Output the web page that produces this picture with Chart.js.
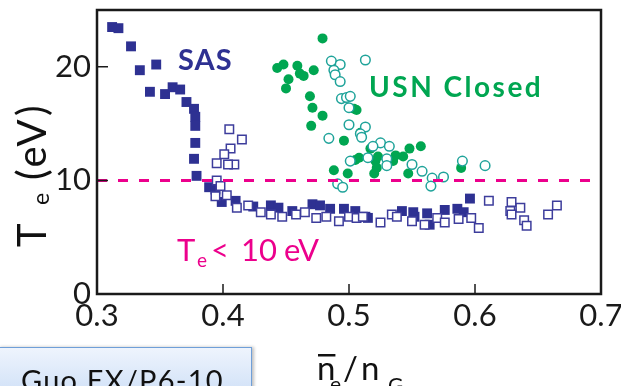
<!DOCTYPE html>
<html>
<head>
<meta charset="utf-8">
<script src="https://cdn.jsdelivr.net/npm/chart.js@4/dist/chart.umd.min.js"></script>
<style>
  body { margin: 0; background: #fff; }
  #wrap { position: relative; width: 621px; height: 386px; overflow: hidden; }
  #tag {
    position: absolute; left: -2px; top: 347px; width: 254px; height: 50px;
    border: 1.5px solid #6f9fd8;
    background: linear-gradient(#eef4fd, #cfe0f7);
    box-shadow: 2px 0 3px rgba(0,0,0,0.25);
    font-family: Lato, sans-serif; font-size: 29px; color: #111;
    padding: 17px 0 0 22px; box-sizing: border-box; line-height: 29px;
    letter-spacing: 1.2px;
  }
</style>
</head>
<body>
<div id="wrap">
  <canvas id="c" width="621" height="386"></canvas>
  <div id="tag">Guo EX/P6-10</div>
</div>
<script>
// SAS, filled squares
const sasFilledX = [0.312, 0.317, 0.327, 0.334, 0.347, 0.342, 0.354, 0.360, 0.366, 0.371, 0.377, 0.378, 0.378, 0.378, 0.377, 0.379, 0.389, 0.394, 0.399, 0.410, 0.424, 0.438, 0.444, 0.455, 0.471, 0.477, 0.485, 0.496, 0.505, 0.513, 0.515, 0.542, 0.551, 0.552, 0.562, 0.564, 0.576, 0.586, 0.591, 0.596];
const sasFilledY = [23.5, 23.4, 21.8, 19.7, 20.2, 17.8, 17.6, 18.2, 18.0, 16.9, 16.3, 15.6, 14.8, 13.3, 11.9, 10.4, 9.4, 9.2, 8.1, 8.2, 7.7, 7.8, 7.6, 7.3, 7.9, 7.8, 7.5, 7.5, 7.3, 6.8, 6.7, 7.3, 7.2, 6.8, 7.1, 6.1, 7.4, 7.5, 7.2, 8.4];
// SAS, open squares
const sasOpenX = [0.405, 0.415, 0.406, 0.401, 0.395, 0.409, 0.404, 0.395, 0.398, 0.394, 0.403, 0.411, 0.420, 0.430, 0.438, 0.447, 0.458, 0.465, 0.474, 0.482, 0.492, 0.500, 0.506, 0.511, 0.525, 0.534, 0.538, 0.550, 0.560, 0.570, 0.576, 0.587, 0.597, 0.603, 0.611, 0.629, 0.628, 0.636, 0.629, 0.639, 0.641, 0.658, 0.665];
const sasOpenY = [14.5, 13.6, 12.8, 12.3, 11.5, 11.4, 11.4, 10.0, 9.5, 8.6, 8.7, 7.6, 7.8, 7.2, 7.0, 6.8, 7.0, 7.2, 6.7, 6.8, 6.4, 6.8, 6.7, 6.8, 6.3, 7.0, 6.8, 6.4, 6.1, 6.7, 6.3, 6.6, 6.7, 5.8, 8.2, 8.1, 7.3, 7.6, 7.0, 6.5, 6.0, 7.0, 7.8];
// USN Closed, filled circles
const usnFilledX = [0.479, 0.443, 0.448, 0.459, 0.461, 0.464, 0.472, 0.452, 0.450, 0.469, 0.471, 0.479, 0.470, 0.496, 0.506, 0.504, 0.509, 0.517, 0.508, 0.521, 0.488, 0.499, 0.520, 0.537, 0.543, 0.548, 0.557, 0.535, 0.547, 0.589, 0.522, 0.505, 0.523];
const usnFilledY = [22.5, 19.9, 20.2, 20.1, 19.4, 19.2, 19.7, 18.9, 18.1, 17.4, 16.4, 15.7, 14.8, 13.5, 16.2, 16.3, 14.2, 12.8, 12.0, 11.7, 10.9, 10.6, 10.6, 12.2, 12.1, 12.8, 13.0, 11.7, 10.6, 11.1, 11.1, 11.8, 12.1];
// USN Closed, open circles
const usnOpenX = [0.513, 0.486, 0.493, 0.488, 0.489, 0.493, 0.494, 0.498, 0.501, 0.500, 0.500, 0.513, 0.509, 0.510, 0.484, 0.525, 0.532, 0.519, 0.515, 0.501, 0.530, 0.530, 0.550, 0.558, 0.566, 0.575, 0.565, 0.590, 0.491, 0.495, 0.608];
const usnOpenY = [20.6, 20.5, 20.2, 19.7, 19.3, 18.7, 17.2, 17.3, 17.4, 16.4, 14.9, 14.7, 14.1, 13.8, 13.7, 13.3, 13.0, 13.0, 12.0, 11.7, 11.9, 11.3, 11.4, 10.8, 10.2, 10.3, 9.5, 11.7, 9.7, 9.4, 11.3];
// Te = 10 eV threshold
const limitX = [0.3, 0.7];
const limitY = [10, 10];
const xTicks = [0.3, 0.4, 0.5, 0.6, 0.7];
const yTicks = [0, 10, 20];

const NAVY = '#2e3192';
const GREEN = '#00a651';
const TEAL = '#1fa39a';
const MAGENTA = '#ec008c';

function pts(xs, ys) {
  return xs.map((x, i) => ({ x: x, y: ys[i] }));
}

const FONT = 'Lato, "Open Sans", sans-serif';

// draws frame, inward ticks and text labels
const decor = {
  id: 'decor',
  afterDraw(chart) {
    const ctx = chart.ctx;
    const a = chart.chartArea;
    const xs = chart.scales.x, ys = chart.scales.y;
    ctx.save();
    ctx.strokeStyle = '#1a1a1a';
    ctx.lineWidth = 2.5;
    ctx.strokeRect(a.left, a.top, a.right - a.left, a.bottom - a.top);
    ctx.lineWidth = 1.5;
    ctx.beginPath();
    xTicks.slice(1, -1).forEach(v => {
      const px = xs.getPixelForValue(v);
      ctx.moveTo(px, a.bottom);
      ctx.lineTo(px, a.bottom - 10);
    });
    yTicks.slice(1).forEach(v => {
      const py = ys.getPixelForValue(v);
      ctx.moveTo(a.left, py);
      ctx.lineTo(a.left + 11, py);
    });
    ctx.stroke();

    ctx.textBaseline = 'alphabetic';
    // annotations
    ctx.fillStyle = NAVY;
    ctx.font = 'bold 29px ' + FONT;
    ctx.letterSpacing = '1px';
    ctx.fillText('SAS', 178, 70);
    ctx.fillStyle = GREEN;
    ctx.font = 'bold 28px ' + FONT;
    ctx.letterSpacing = '2.5px';
    ctx.fillText('USN Closed', 369, 97);
    ctx.letterSpacing = '0px';

    ctx.fillStyle = MAGENTA;
    ctx.font = '31px ' + FONT;
    ctx.fillText('T', 177, 261);
    ctx.font = '19px ' + FONT;
    ctx.fillText('e', 197, 267);
    ctx.font = '31px ' + FONT;
    ctx.fillText('<', 211, 261);
    ctx.fillText('10', 241, 261);
    ctx.fillText('eV', 284, 261);

    // y title (rotated)
    ctx.fillStyle = '#111';
    ctx.save();
    ctx.translate(46, 0);
    ctx.rotate(-Math.PI / 2);
    ctx.font = '40px ' + FONT;
    ctx.fillText('T', -247, 0);
    ctx.font = '23px ' + FONT;
    ctx.fillText('e', -205, 3);
    ctx.font = '40px ' + FONT;
    ctx.letterSpacing = '3px';
    ctx.fillText('(eV)', -180, 0);
    ctx.letterSpacing = '0px';
    ctx.restore();

    // x title
    ctx.font = '33px ' + FONT;
    const nW = ctx.measureText('n').width;
    ctx.fillText('n', 317, 380);
    ctx.fillRect(318, 354, nW - 1, 2.5);
    ctx.fillText('/', 343, 380);
    ctx.fillText('n', 361, 380);
    ctx.font = '21px ' + FONT;
    ctx.fillText('e', 330, 392);
    ctx.fillText('G', 388, 393);
    ctx.restore();
  }
};

new Chart(document.getElementById('c'), {
  type: 'scatter',
  data: {
    datasets: [
      {
        label: 'Te = 10 eV',
        type: 'line',
        data: pts(limitX, limitY),
        borderColor: MAGENTA,
        borderWidth: 3,
        borderDash: [10, 11],
        pointRadius: 0,
        fill: false
      },
      {
        label: 'USN Closed open',
        data: pts(usnOpenX, usnOpenY),
        pointStyle: 'circle',
        pointRadius: 4.8,
        borderWidth: 1.5,
        borderColor: TEAL,
        backgroundColor: '#fff'
      },
      {
        label: 'USN Closed',
        data: pts(usnFilledX, usnFilledY),
        pointStyle: 'circle',
        pointRadius: 5,
        borderWidth: 0,
        backgroundColor: GREEN
      },
      {
        label: 'SAS open',
        data: pts(sasOpenX, sasOpenY),
        pointStyle: 'rect',
        pointRadius: 6,
        borderWidth: 1.5,
        borderColor: '#3d3d9c',
        backgroundColor: '#fff'
      },
      {
        label: 'SAS',
        data: pts(sasFilledX, sasFilledY),
        pointStyle: 'rect',
        pointRadius: 7,
        borderWidth: 0,
        backgroundColor: NAVY
      }
    ]
  },
  options: {
    responsive: false,
    animation: false,
    layout: { padding: { left: 0, right: 20, top: 10, bottom: 0 } },
    plugins: { legend: { display: false }, tooltip: { enabled: false } },
    scales: {
      x: {
        type: 'linear',
        min: 0.3, max: 0.7,
        afterBuildTicks: s => { s.ticks = xTicks.map(v => ({ value: v })); },
        afterFit: s => { s.height = 92; s.paddingLeft = 0; s.paddingRight = 0; },
        grid: { display: false, drawTicks: false },
        border: { display: false },
        ticks: {
          padding: 3,
          color: '#1a1a1a',
          font: { family: FONT, size: 31 },
          callback: v => v.toFixed(1)
        }
      },
      y: {
        type: 'linear',
        min: 0, max: 25,
        afterBuildTicks: s => { s.ticks = yTicks.map(v => ({ value: v })); },
        afterFit: s => { s.width = 97; s.paddingTop = 0; s.paddingBottom = 0; },
        grid: { display: false, drawTicks: false },
        border: { display: false },
        ticks: {
          padding: 6,
          color: '#1a1a1a',
          font: { family: FONT, size: 31 },
          callback: v => String(v)
        }
      }
    }
  },
  plugins: [decor]
});
</script>
</body>
</html>
